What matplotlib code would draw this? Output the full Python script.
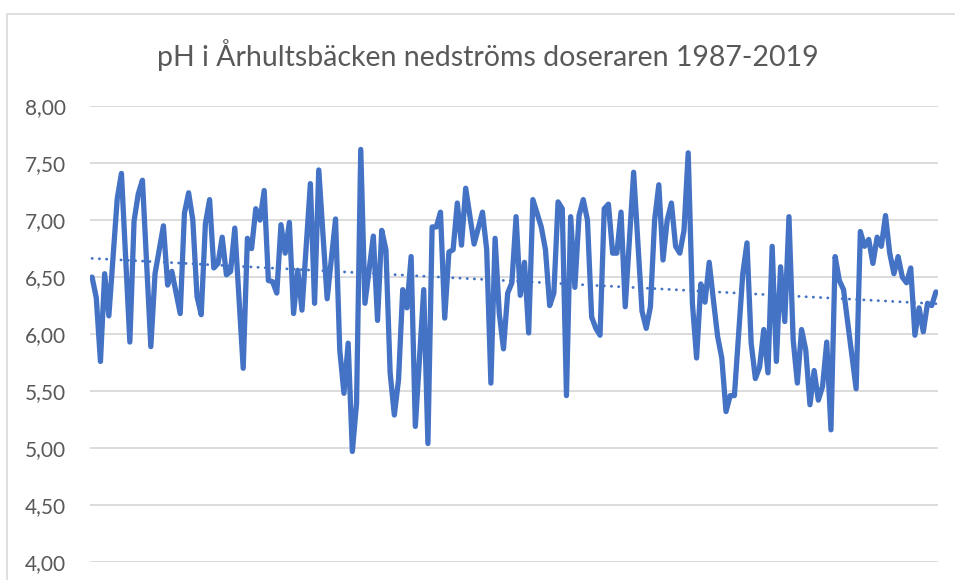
import numpy as np
import matplotlib.pyplot as plt
from matplotlib.patches import Rectangle

plt.rcParams['font.family'] = ['Lato', 'DejaVu Sans']

titel = "pH i Århultsbäcken nedströms doseraren 1987-2019"

# provnummer (ordning i serien) och pH-värden
prov = [0, 1, 2, 3, 4, 6, 7, 9, 10, 11, 12, 14, 15, 17, 18, 19, 21, 22, 23, 24,
        25, 26, 27, 28, 29, 30, 31, 32, 33, 34, 36, 37, 38, 39, 40, 41, 42, 43, 44, 45,
        46, 47, 48, 49, 50, 52, 53, 54, 56, 58, 59, 60, 61, 62, 63, 64, 65, 67, 68, 69,
        70, 71, 72, 73, 74, 75, 76, 77, 79, 80, 81, 82, 83, 84, 85, 86, 87, 88, 89, 91,
        93, 94, 95, 96, 97, 98, 99, 100, 101, 102, 103, 104, 105, 107, 108, 109, 110, 111, 112, 113,
        114, 115, 116, 117, 118, 119, 120, 121, 122, 123, 124, 125, 126, 127, 129, 131, 132, 133, 134, 135,
        136, 137, 138, 139, 140, 141, 142, 143, 144, 145, 146, 147, 148, 149, 150, 151, 152, 153, 155, 156,
        157, 158, 159, 160, 161, 162, 163, 164, 165, 166, 167, 168, 169, 170, 171, 172, 173, 174, 175, 176,
        177, 178, 179, 182, 183, 184, 185, 186, 187, 188, 189, 190, 191, 192, 193, 194, 195, 196, 197, 198,
        199, 200, 201]

ph = [6.50, 6.32, 5.76, 6.53, 6.16, 7.19, 7.41, 5.93, 6.99, 7.23, 7.35, 5.89, 6.53, 6.95, 6.43, 6.55, 6.18, 7.06, 7.24, 7.00,
      6.33, 6.17, 6.97, 7.18, 6.58, 6.62, 6.85, 6.52, 6.55, 6.93, 5.70, 6.84, 6.75, 7.10, 7.00, 7.26, 6.47, 6.46, 6.36, 6.96,
      6.71, 6.98, 6.18, 6.56, 6.21, 7.32, 6.27, 7.44, 6.31, 7.01, 5.86, 5.48, 5.92, 4.97, 5.39, 7.62, 6.27, 6.86, 6.12, 6.91,
      6.74, 5.66, 5.29, 5.60, 6.39, 6.23, 6.68, 5.19, 6.39, 5.04, 6.94, 6.94, 7.07, 6.14, 6.72, 6.74, 7.15, 6.78, 7.28, 6.79,
      7.07, 6.74, 5.57, 6.84, 6.18, 5.87, 6.36, 6.45, 7.03, 6.34, 6.63, 6.01, 7.18, 6.94, 6.74, 6.25, 6.36, 7.16, 7.10, 5.46,
      7.03, 6.41, 7.04, 7.18, 7.00, 6.15, 6.05, 5.99, 7.10, 7.14, 6.71, 6.71, 7.07, 6.24, 7.42, 6.20, 6.05, 6.24, 7.00, 7.31,
      6.65, 7.00, 7.15, 6.77, 6.71, 6.91, 7.59, 6.27, 5.79, 6.44, 6.28, 6.63, 6.30, 5.98, 5.79, 5.32, 5.46, 5.46, 6.53, 6.80,
      5.92, 5.61, 5.71, 6.04, 5.66, 6.77, 5.76, 6.59, 6.11, 7.03, 5.95, 5.57, 6.04, 5.86, 5.38, 5.68, 5.42, 5.54, 5.93, 5.16,
      6.68, 6.47, 6.39, 5.52, 6.90, 6.77, 6.83, 6.62, 6.85, 6.77, 7.04, 6.71, 6.53, 6.68, 6.50, 6.45, 6.58, 5.99, 6.23, 6.02,
      6.27, 6.25, 6.37]

y_ticks = [4.0, 4.5, 5.0, 5.5, 6.0, 6.5, 7.0, 7.5, 8.0]
y_labels = ["4,00", "4,50", "5,00", "5,50", "6,00", "6,50", "7,00", "7,50", "8,00"]

fig = plt.figure(figsize=(9.55, 5.8), dpi=100)
ax = fig.add_axes([0.0942, 0.031, 0.888, 0.786])

# ram runt diagrammet
fig.patches.append(Rectangle((7 / 955, -0.1), 1.2, 1 - 14 / 580 + 0.1, transform=fig.transFigure,
                             fill=False, edgecolor="#D9D9D9", linewidth=1.2))

ax.plot(prov, ph, color="#4472C4", linewidth=3.8, solid_joinstyle="round", solid_capstyle="round", zorder=3)

# linjär trendlinje
k, m = np.polyfit(prov, ph, 1)
xt = np.array([prov[0], prov[-1]])
ax.plot(xt, k * xt + m, color="#4472C4", linewidth=2.0, linestyle=(0, (0.1, 2.5)),
        dash_capstyle="round", zorder=2)

ax.set_ylim(4, 8)
ax.set_xlim(-0.5, prov[-1] + 0.5)
ax.set_yticks(y_ticks)
ax.set_yticklabels(y_labels)
ax.set_xticks([])
ax.grid(axis="y", color="#D9D9D9", linewidth=1.3)
ax.set_axisbelow(True)
for s in ax.spines.values():
    s.set_visible(False)
ax.tick_params(axis="y", length=0, pad=17, labelsize=15, labelcolor="#595959")

fig.text(0.511, 0.905, titel, ha="center", va="center", fontsize=20.5, color="#595959")

fig.savefig("out.png", dpi=100)
